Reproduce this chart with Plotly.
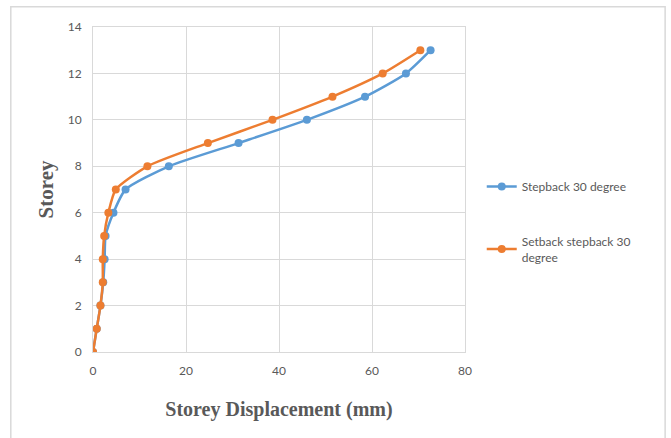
import plotly.graph_objects as go

# Storey levels and displacement (mm) for each model
storey = [0, 1, 2, 3, 4, 5, 6, 7, 8, 9, 10, 11, 12, 13]
stepback_30 = [0, 0.8, 1.6, 2.2, 2.5, 2.7, 4.4, 7.0, 16.3, 31.3, 46.0, 58.5, 67.3, 72.6]
setback_stepback_30 = [0, 0.8, 1.6, 2.1, 2.1, 2.4, 3.3, 4.9, 11.7, 24.7, 38.6, 51.5, 62.3, 70.4]

x_ticks = [0, 20, 40, 60, 80]
y_ticks = [0, 2, 4, 6, 8, 10, 12, 14]

BLUE = "#5B9BD5"
ORANGE = "#ED7D31"
GRID = "#D9D9D9"
TICK = "#595959"

fig = go.Figure()
fig.add_trace(go.Scatter(
    x=stepback_30, y=storey, name="Stepback 30 degree",
    mode="lines+markers", line=dict(color=BLUE, width=2.5, shape="spline", smoothing=0.6),
    marker=dict(color=BLUE, size=8), legendgroup="a",
))
fig.add_trace(go.Scatter(
    x=setback_stepback_30, y=storey, name="Setback stepback 30<br>degree",
    mode="lines+markers", line=dict(color=ORANGE, width=2.5, shape="spline", smoothing=0.6),
    marker=dict(color=ORANGE, size=8), legendgroup="b",
))

fig.update_layout(
    width=671, height=438,
    margin=dict(l=93, r=206, t=27, b=86),
    paper_bgcolor="white", plot_bgcolor="white",
    font=dict(family="Lato, Carlito, Liberation Sans", size=12, color=TICK),
    legend=dict(
        x=1.045, y=0.40, xanchor="left", yanchor="middle",
        traceorder="grouped", tracegroupgap=36,
        font=dict(size=12, color=TICK), itemwidth=30,
    ),
    xaxis=dict(
        range=[0, 80], tickvals=x_ticks, showgrid=True, gridcolor=GRID, gridwidth=1,
        zeroline=False, showline=True, linecolor=GRID, mirror=True,
        ticks="", tickfont=dict(size=12, color=TICK), ticklabelstandoff=8,
        title=dict(text="<b>Storey Displacement (mm)</b>",
                   font=dict(family="Liberation Serif, Times New Roman", size=20, color=TICK),
                   standoff=24),
    ),
    yaxis=dict(
        range=[0, 14], tickvals=y_ticks, showgrid=True, gridcolor=GRID, gridwidth=1,
        zeroline=False, showline=True, linecolor=GRID, mirror=True,
        ticks="", tickfont=dict(size=12, color=TICK), ticklabelstandoff=8,
        title=dict(text="<b>Storey</b>",
                   font=dict(family="Liberation Serif, Times New Roman", size=21, color=TICK),
                   standoff=8),
    ),
)

# chart frame
fig.add_shape(type="rect", xref="paper", yref="paper",
              x0=-0.221, x1=1.538, y0=-0.40, y1=1.062,
              line=dict(color="#D9D9D9", width=1.5), layer="below")

fig.write_html("out.html")
